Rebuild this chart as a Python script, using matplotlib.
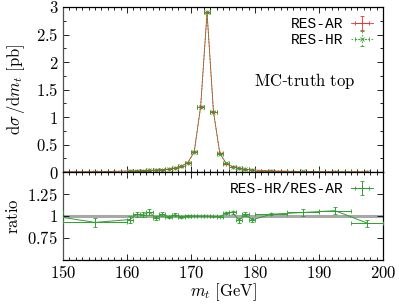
import matplotlib
matplotlib.use('Agg')
import numpy as np
import matplotlib.pyplot as plt
from matplotlib.ticker import FuncFormatter, MultipleLocator, FixedLocator

plt.rcParams['mathtext.fontset'] = 'cm'
plt.rcParams['font.family'] = ['DejaVu Serif']

# bin centres [GeV] and half widths
m_t = [145, 155, 160.5, 161.5, 162.5, 163.5, 164.5, 165.5, 166.5, 167.5, 168.5,
       169.5, 170.5, 171.5, 172.5, 173.5, 174.5, 175.5, 176.5, 177.5, 178.5,
       179.5, 182.5, 187.5, 192.5, 197.5]
half_w = [5, 5] + [0.5] * 20 + [2.5] * 4

# dsigma/dm_t [pb] for RES-AR
res_ar = [0.002, 0.005, 0.02, 0.022, 0.025, 0.03, 0.035, 0.045, 0.055, 0.075, 0.105,
          0.17, 0.37, 1.19, 2.90, 1.10, 0.34, 0.155, 0.095, 0.07, 0.05,
          0.04, 0.02, 0.01, 0.006, 0.004]
err_ar = [0.001, 0.003] + [0.004] * 10 + [0.01, 0.012, 0.012, 0.012] + [0.005] * 6 + [0.003] * 4

# ratio RES-HR / RES-AR and its error
ratio = [1.04, 0.927, 0.96, 1.02, 1.015, 1.045, 0.975, 1.02, 0.99, 1.015, 0.99,
         1.0, 1.0, 1.0, 1.0, 0.995, 0.99, 1.035, 1.04, 0.95, 1.02,
         0.955, 1.02, 1.04, 1.06, 0.92]
ratio_err = [0.05, 0.05, 0.035, 0.03, 0.03, 0.03, 0.025, 0.025, 0.015, 0.015, 0.01,
             0.008, 0.005, 0.004, 0.003, 0.004, 0.006, 0.015, 0.02, 0.03, 0.02,
             0.025, 0.01, 0.04, 0.04, 0.04]

res_hr = np.array(res_ar) * np.array(ratio)
err_hr = np.array(err_ar) * np.array(ratio)

red = '#f03030'
green = '#30a030'


def fmt(v, pos):
    return r'$\mathrm{%g}$' % v


fig = plt.figure(figsize=(3.99, 3.04), dpi=100)
ax1 = fig.add_axes([0.158, 0.434, 0.802, 0.543])
ax2 = fig.add_axes([0.158, 0.145, 0.802, 0.289])

# upper panel
h_ar = ax1.errorbar(m_t, res_ar, xerr=half_w, yerr=err_ar, color=red, lw=0.6,
                    elinewidth=0.6, capsize=1.5, marker='+', ms=3, mew=0.6,
                    label='RES-AR')
h_hr = ax1.errorbar(m_t, res_hr, xerr=half_w, yerr=err_hr, color=green, lw=0.6,
                    ls=(0, (2, 2)), elinewidth=0.6, capsize=1.5, marker='x', ms=2.5,
                    mew=0.6, label='RES-HR')
h_hr[-1][0].set_linestyle((0, (2, 2)))
h_hr[-1][1].set_linestyle((0, (2, 2)))

ax1.set_xlim(150, 200)
ax1.set_ylim(0, 3)
ax1.xaxis.set_major_locator(MultipleLocator(10))
ax1.xaxis.set_minor_locator(MultipleLocator(1))
ax1.yaxis.set_major_locator(MultipleLocator(0.5))
ax1.yaxis.set_minor_locator(MultipleLocator(0.25))
ax1.yaxis.set_major_formatter(FuncFormatter(fmt))
ax1.tick_params(axis='x', labelbottom=False)
ax1.set_ylabel(r'$\mathrm{d}\sigma\,/\mathrm{d}m_t\ [\mathrm{pb}]$', fontsize=12, labelpad=6)
ax1.text(0.755, 0.55, r'$\mathrm{MC}$' + '-' + r'$\mathrm{truth\ top}$', transform=ax1.transAxes,
         ha='center', va='center', fontsize=12)
leg1 = ax1.legend(handles=[h_ar, h_hr], loc='upper right', frameon=False,
                  prop={'family': 'Liberation Mono', 'size': 10.5},
                  handlelength=1.5, handletextpad=0.5, labelspacing=0.1,
                  markerfirst=False, borderaxespad=0.3)

# lower panel
ax2.axhline(1.0, color='#a8a8a8', lw=2.2, zorder=1)
h_r = ax2.errorbar(m_t, ratio, xerr=half_w, yerr=ratio_err, color=green, lw=0.7,
                   elinewidth=0.7, capsize=1.5, marker='+', ms=3, mew=0.6,
                   label='RES-HR/RES-AR', zorder=3)
ax2.set_xlim(150, 200)
ax2.set_ylim(0.5, 1.5)
ax2.xaxis.set_major_locator(MultipleLocator(10))
ax2.xaxis.set_minor_locator(MultipleLocator(1))
ax2.yaxis.set_major_locator(FixedLocator([0.75, 1.0, 1.25]))
ax2.yaxis.set_major_formatter(FuncFormatter(fmt))
ax2.xaxis.set_major_formatter(FuncFormatter(fmt))
ax2.set_ylabel(r'$\mathrm{ratio}$', fontsize=12, labelpad=4)
ax2.set_xlabel(r'$m_t\ [\mathrm{GeV}]$', fontsize=12, labelpad=0)
ax2.legend(handles=[h_r], loc='upper right', frameon=False,
           prop={'family': 'Liberation Mono', 'size': 10.5},
           handlelength=1.5, handletextpad=0.5, markerfirst=False, borderaxespad=0.3)

for ax in (ax1, ax2):
    ax.tick_params(which='both', direction='in', top=True, right=True,
                   labelsize=12, width=0.6)
    ax.tick_params(which='major', length=4)
    ax.tick_params(which='minor', length=2)
    for s in ax.spines.values():
        s.set_linewidth(0.9)
    ax.spines['left'].set_color('#505050')

fig.savefig('out.png', dpi=100)
